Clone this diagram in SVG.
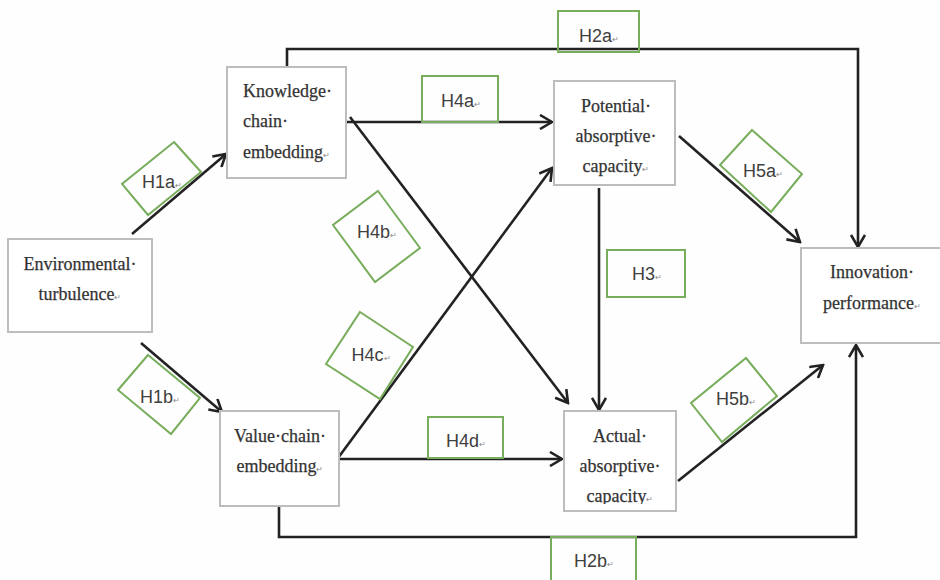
<svg xmlns="http://www.w3.org/2000/svg" width="940" height="580" viewBox="0 0 940 580">
<style>
.bg{fill:#fefefe}
.box{fill:#ffffff;stroke:#bdbdbd;stroke-width:2}
.lab{fill:none;stroke:#78ad5c;stroke-width:2}
.t{font-family:"Liberation Serif","Times New Roman",serif;font-size:18px;fill:#333;stroke:#333;stroke-width:0.25}
.l{font-family:"Liberation Sans",Arial,sans-serif;font-size:18px;fill:#404040;text-anchor:middle}
.m{font-size:8px;fill:#888;stroke:none}
.c{fill:none;stroke:#222;stroke-width:2.6;stroke-linejoin:miter}
</style>
<defs>
<marker id="ah" viewBox="0 0 16 16" refX="14" refY="8" markerWidth="16" markerHeight="16" markerUnits="userSpaceOnUse" orient="auto">
<path d="M2,1 L14,8 L2,15" fill="none" stroke="#222" stroke-width="2.6"/>
</marker>
<clipPath id="clipA"><rect x="564" y="411" width="112" height="93"/></clipPath>
</defs>
<rect class="bg" x="0" y="0" width="940" height="580"/>

<g id="connectors">
<line class="c" x1="132" y1="234" x2="226" y2="154" marker-end="url(#ah)"/>
<line class="c" x1="141" y1="343" x2="222" y2="412" marker-end="url(#ah)"/>
<polyline class="c" points="287,67 287,49 858,49 858,247" marker-end="url(#ah)"/>
<line class="c" x1="346" y1="122" x2="552" y2="122" marker-end="url(#ah)"/>
<line class="c" x1="350" y1="117" x2="568" y2="403" marker-end="url(#ah)"/>
<line class="c" x1="338" y1="458" x2="552" y2="168" marker-end="url(#ah)"/>
<line class="c" x1="339" y1="459" x2="562" y2="459" marker-end="url(#ah)"/>
<line class="c" x1="599" y1="188" x2="599" y2="410" marker-end="url(#ah)"/>
<line class="c" x1="679" y1="136" x2="800" y2="242" marker-end="url(#ah)"/>
<line class="c" x1="678" y1="481" x2="823" y2="365" marker-end="url(#ah)"/>
<polyline class="c" points="279,506 279,537 856,537 856,345" marker-end="url(#ah)"/>
</g>

<g id="env">
<rect class="box" x="8" y="239" width="144" height="93"/>
<text class="t" text-anchor="middle"><tspan x="80" y="270">Environmental·</tspan><tspan x="80" y="300">turbulence<tspan class="m">↵</tspan></tspan></text>
</g>
<g id="knowledge">
<rect class="box" x="227" y="67" width="119" height="111"/>
<text class="t"><tspan x="243" y="97">Knowledge·</tspan><tspan x="243" y="127">chain·</tspan><tspan x="243" y="158">embedding<tspan class="m">↵</tspan></tspan></text>
</g>
<g id="value">
<rect class="box" x="220" y="411" width="119" height="95"/>
<text class="t" text-anchor="middle"><tspan x="280" y="442">Value·chain·</tspan><tspan x="280" y="472">embedding<tspan class="m">↵</tspan></tspan></text>
</g>
<g id="potential">
<rect class="box" x="554" y="81" width="121" height="104"/>
<text class="t" text-anchor="middle"><tspan x="616" y="112">Potential·</tspan><tspan x="616" y="142">absorptive·</tspan><tspan x="616" y="172">capacity<tspan class="m">↵</tspan></tspan></text>
</g>
<g id="actual">
<rect class="box" x="564" y="411" width="112" height="100"/>
<text class="t" text-anchor="middle" clip-path="url(#clipA)"><tspan x="620" y="442">Actual·</tspan><tspan x="620" y="472">absorptive·</tspan><tspan x="620" y="502">capacity<tspan class="m">↵</tspan></tspan></text>
</g>
<g id="innovation">
<rect class="box" x="801" y="248" width="145" height="95"/>
<text class="t" text-anchor="middle"><tspan x="872" y="278">Innovation·</tspan><tspan x="872" y="309">performance<tspan class="m">↵</tspan></tspan></text>
</g>

<g id="H1a"><polygon class="lab" points="174,142 201,172 148,215 122,184"/><text class="l" x="162" y="188">H1a<tspan class="m">↵</tspan></text></g>
<g id="H1b"><polygon class="lab" points="148,355 200,398 171,434 118,390"/><text class="l" x="160" y="403">H1b<tspan class="m">↵</tspan></text></g>
<g id="H2a"><rect class="lab" x="558" y="11" width="81" height="41"/><text class="l" x="599" y="42">H2a<tspan class="m">↵</tspan></text></g>
<g id="H2b"><rect class="lab" x="551" y="537" width="85" height="44"/><text class="l" x="594" y="567">H2b<tspan class="m">↵</tspan></text></g>
<g id="H3"><rect class="lab" x="607" y="250" width="78" height="47"/><text class="l" x="647" y="280">H3<tspan class="m">↵</tspan></text></g>
<g id="H4a"><rect class="lab" x="422" y="76" width="76" height="46"/><text class="l" x="461" y="107">H4a<tspan class="m">↵</tspan></text></g>
<g id="H4b"><polygon class="lab" points="378,191 420,248 375,282 333,225"/><text class="l" x="377" y="238">H4b<tspan class="m">↵</tspan></text></g>
<g id="H4c"><polygon class="lab" points="360,312 413,347 380,399 326,364"/><text class="l" x="371" y="361">H4c<tspan class="m">↵</tspan></text></g>
<g id="H4d"><rect class="lab" x="428" y="417" width="75" height="41"/><text class="l" x="466" y="447">H4d<tspan class="m">↵</tspan></text></g>
<g id="H5a"><polygon class="lab" points="752,130 802,174 771,212 720,165"/><text class="l" x="763" y="177">H5a<tspan class="m">↵</tspan></text></g>
<g id="H5b"><polygon class="lab" points="746,358 777,396 722,442 691,403"/><text class="l" x="736" y="405">H5b<tspan class="m">↵</tspan></text></g>
</svg>
